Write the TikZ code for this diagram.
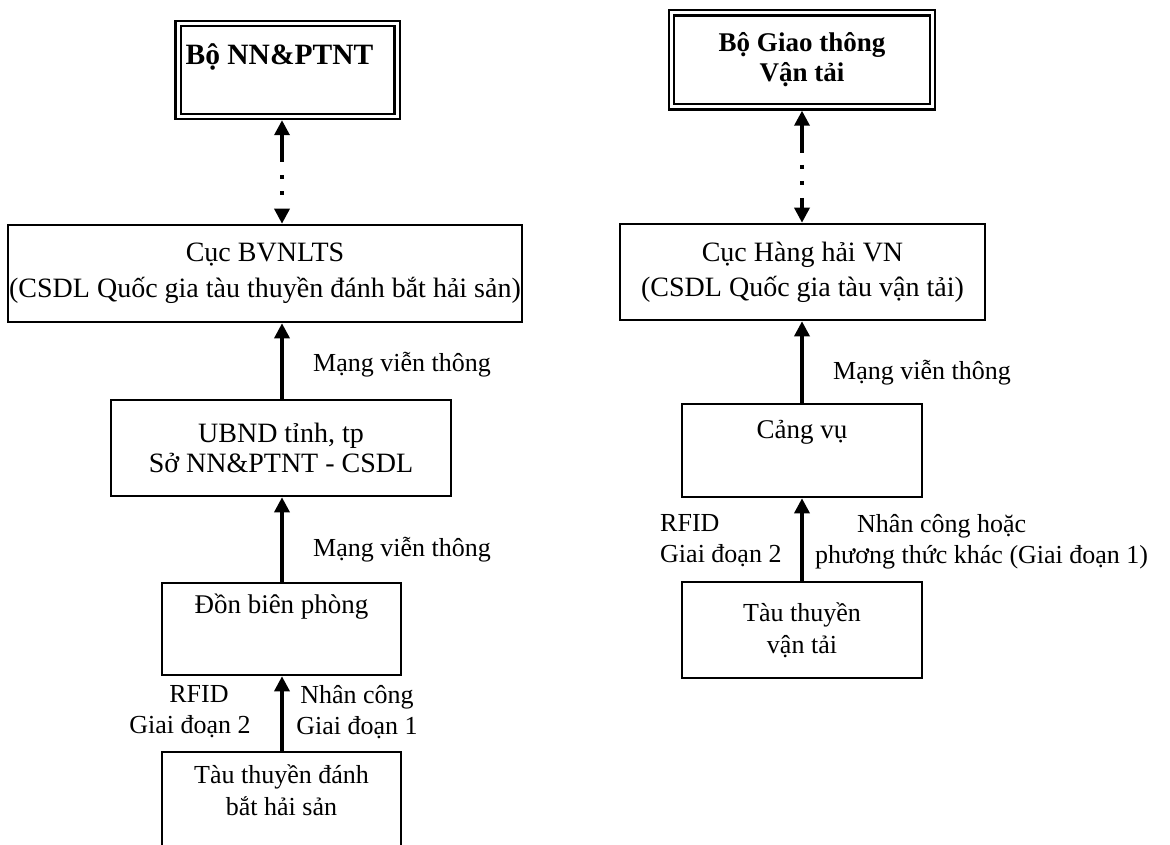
\documentclass[tikz,border=0pt]{standalone}
\usepackage{fontspec}
\setmainfont{Liberation Serif}
\usetikzlibrary{arrows.meta,calc}
\begin{document}
\begin{tikzpicture}[x=1pt,y=-1pt,
  box/.style={draw, line width=2.6pt, inner sep=0pt, align=center, font=\fontsize{27}{32}\selectfont},
  dbox/.style={draw, line width=2.2pt, double, double distance=3pt, outer sep=3.7pt, inner sep=0pt, align=center, font=\fontsize{27}{31}\selectfont\bfseries},
  tip/.tip={Triangle[length=15pt,width=15pt]},
  arr/.style={line width=3.4pt, -tip},
  darr/.style={line width=3.4pt, tip-tip},
  lab/.style={font=\fontsize{26}{31}\selectfont, align=center, inner sep=0pt},
  net/.style={font=\fontsize{26}{30}\selectfont, inner sep=0pt, anchor=west},
]
\useasboundingbox (0,0) rectangle (1170,845);
\coordinate (axL) at (282,0);
\coordinate (axR) at (802,0);
% left column
\node[dbox, minimum width=219pt, minimum height=93pt, font=\fontsize{29.5}{31}\selectfont\bfseries] (bo1) at (287.5,70) {\hspace*{-16pt}Bộ NN\&PTNT\\[1pt]~};
\node[box, minimum width=514pt, minimum height=97pt, font=\fontsize{28}{36}\selectfont] (cuc1) at (265,273.5) {Cục BVNLTS\\(CSDL Quốc gia tàu thuyền đánh bắt hải sản)};
\node[box, minimum width=340pt, minimum height=96pt, font=\fontsize{28}{30}\selectfont] (ubnd) at (281,448) {UBND tỉnh, tp\\Sở NN\&PTNT - CSDL};
\node[box, minimum width=239pt, minimum height=92pt] (don) at (281.5,629) {Đồn biên phòng\\[19pt]~};
\node[box, minimum width=239pt, minimum height=100pt, font=\fontsize{26}{32}\selectfont] (tau1) at (281.5,802) {Tàu thuyền đánh\\bắt hải sản\\[-8pt]~};
% right column
\node[dbox, minimum width=261pt, minimum height=94pt, font=\fontsize{27}{30}\selectfont\bfseries] (bo2) at (802,60) {Bộ Giao thông\\Vận tải};
\node[box, minimum width=365pt, minimum height=96pt, font=\fontsize{28}{35}\selectfont] (cuc2) at (802.5,272) {Cục Hàng hải VN\\(CSDL Quốc gia tàu vận tải)};
\node[box, minimum width=240pt, minimum height=93pt] (cang) at (802,450.5) {Cảng vụ\\[10pt]~};
\node[box, minimum width=240pt, minimum height=96pt, font=\fontsize{26}{32}\selectfont] (tau2) at (802,630) {Tàu thuyền\\vận tải};
% connectors left
\draw[darr, dash pattern=on 28pt off 13pt on 4pt off 12pt on 4pt off 60pt] (bo1.south -| axL) -- (cuc1.north -| axL);
\draw[arr] (ubnd.north -| axL) -- (cuc1.south -| axL);
\draw[arr] (don.north -| axL) -- (ubnd.south -| axL);
\draw[arr] (tau1.north -| axL) -- (don.south -| axL);
% connectors right
\draw[darr, dash pattern=on 28pt off 12pt on 4pt off 12pt on 4pt off 13pt on 10pt off 40pt] (bo2.south -| axR) -- (cuc2.north -| axR);
\draw[arr] (cang.north -| axR) -- (cuc2.south -| axR);
\draw[arr] (tau2.north -| axR) -- (cang.south -| axR);
% labels
\node[net] (m1) at (313,365) {Mạng viễn thông};
\node[net] (m2) at (313,550) {Mạng viễn thông};
\node[net] (m3) at (833,373) {Mạng viễn thông};
\node[lab] (r1) at (190,712) {\hspace*{18pt}RFID\\Giai đoạn 2};
\node[lab] (n1) at (357,712) {Nhân công\\Giai đoạn 1};
\node[lab, align=left, anchor=west] (r2) at (660,541) {RFID\\Giai đoạn 2};
\node[lab, align=left, anchor=west] (n2) at (815,542) {\hspace*{42pt}Nhân công hoặc\\phương thức khác (Giai đoạn 1)};
\end{tikzpicture}
\end{document}
